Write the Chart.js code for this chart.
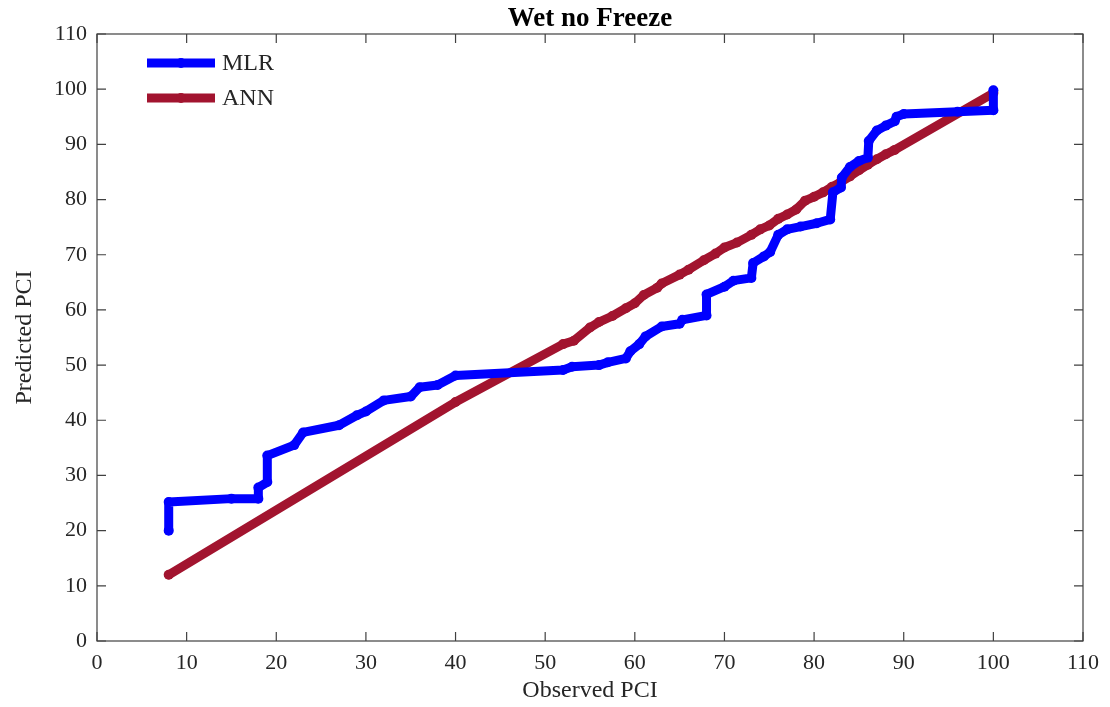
<!DOCTYPE html>
<html>
<head>
<meta charset="utf-8">
<script src="https://cdn.jsdelivr.net/npm/chart.js@4/dist/chart.umd.min.js"></script>
<style>
  html, body { margin: 0; padding: 0; background: #fff; }
  #wrap { width: 1110px; height: 707px; }
</style>
</head>
<body>
<div id="wrap"><canvas id="pci"></canvas></div>
<script>
const chartTitle = "Wet no Freeze";
const xLabel = "Observed PCI";
const yLabel = "Predicted PCI";
const seriesNames = ["MLR", "ANN"];
const seriesColors = ["#0000ff", "#a2142f"];

// MLR: observed vs predicted
const mlrObserved = [8, 8, 15, 18, 18, 19, 19, 22, 23, 27, 29, 30, 32, 35, 36, 38, 40, 52, 53, 56, 57, 59,
  59.5, 60.5, 61.2, 63, 65, 65.3, 68, 68, 70, 71, 73, 73.2, 74.4, 75.1, 76, 77, 78.5, 80.3, 81.8, 82.1,
  83, 83.1, 84, 85, 86, 86.1, 87, 88, 89, 89.2, 90, 96, 100, 100];
const mlrPredicted = [20, 25.2, 25.8, 25.8, 27.8, 28.8, 33.6, 35.5, 37.8, 39.1, 40.9, 41.6, 43.6, 44.3, 46.0, 46.4, 48.1, 49.1, 49.7, 50.0, 50.5, 51.2,
  52.5, 53.8, 55.2, 57.0, 57.5, 58.2, 59.0, 62.8, 64.2, 65.3, 65.8, 68.5, 69.7, 70.5, 73.6, 74.6, 75.1, 75.7, 76.4, 81.3,
  82.2, 84.0, 85.9, 87.0, 87.6, 90.6, 92.5, 93.4, 94.2, 95.0, 95.5, 95.9, 96.2, 99.8];

// ANN: observed vs predicted
const annObserved = [8, 40, 52, 53.2, 55, 56, 57.5, 59, 60, 61, 62.5, 63, 65, 66, 67.7, 69, 70, 71.4, 73, 74,
  75, 76, 77, 78, 79, 80, 81, 82, 83, 84, 85, 86, 87, 88, 89, 100];
const annPredicted = [12, 43.3, 53.8, 54.4, 56.8, 57.8, 58.9, 60.3, 61.2, 62.7, 64.0, 64.8, 66.4, 67.3, 69.0, 70.2, 71.3, 72.2, 73.6, 74.6,
  75.3, 76.5, 77.3, 78.2, 79.8, 80.5, 81.3, 82.3, 83.2, 84.2, 85.3, 86.3, 87.3, 88.2, 89.0, 99.3];

const axisMin = 0;
const axisMax = 110;
const axisStep = 10;

const serif = "'Liberation Serif', 'Times New Roman', serif";
const textColor = "#262626";
const frameColor = "#404040";

function toPoints(xs, ys) {
  return xs.map((x, i) => ({ x: x, y: ys[i] }));
}

function lineSet(label, xs, ys, color) {
  return {
    label: label,
    data: toPoints(xs, ys),
    borderColor: color,
    backgroundColor: color,
    borderWidth: 9,
    borderCapStyle: "round",
    borderJoinStyle: "round",
    pointRadius: 5,
    pointBorderWidth: 0,
    pointBackgroundColor: color,
    pointHoverRadius: 5,
    tension: 0,
  };
}

// box around the axes with inward ticks on every side
const framePlugin = {
  id: "frame",
  beforeDatasetsDraw(chart) {
    const { ctx, chartArea: a, scales } = chart;
    const len = 9;
    ctx.save();
    ctx.strokeStyle = frameColor;
    ctx.lineWidth = 1.2;
    ctx.strokeRect(a.left, a.top, a.right - a.left, a.bottom - a.top);
    ctx.beginPath();
    scales.x.ticks.forEach((t) => {
      const px = scales.x.getPixelForValue(t.value);
      ctx.moveTo(px, a.bottom); ctx.lineTo(px, a.bottom - len);
      ctx.moveTo(px, a.top); ctx.lineTo(px, a.top + len);
    });
    scales.y.ticks.forEach((t) => {
      const py = scales.y.getPixelForValue(t.value);
      ctx.moveTo(a.left, py); ctx.lineTo(a.left + len, py);
      ctx.moveTo(a.right, py); ctx.lineTo(a.right - len, py);
    });
    ctx.stroke();
    ctx.restore();
  },
  afterDraw(chart) {
    const { ctx, chartArea: a } = chart;
    ctx.save();
    // title over the plot area
    ctx.fillStyle = "#000";
    ctx.font = "bold 27px " + serif;
    ctx.textAlign = "center";
    ctx.textBaseline = "alphabetic";
    ctx.fillText(chartTitle, (a.left + a.right) / 2, 26);

    // legend in the upper left corner
    ctx.font = "24px " + serif;
    ctx.textAlign = "left";
    ctx.textBaseline = "middle";
    const rows = [63, 98];
    chart.data.datasets.forEach((ds, i) => {
      const y = rows[i];
      ctx.strokeStyle = ds.borderColor;
      ctx.lineWidth = 9;
      ctx.lineCap = "butt";
      ctx.beginPath();
      ctx.moveTo(147, y);
      ctx.lineTo(215, y);
      ctx.stroke();
      ctx.fillStyle = ds.borderColor;
      ctx.beginPath();
      ctx.arc(181, y, 5, 0, Math.PI * 2);
      ctx.fill();
      ctx.fillStyle = textColor;
      ctx.fillText(ds.label, 222, y + 1);
    });
    ctx.restore();
  },
};

const data = {
  datasets: [
    lineSet(seriesNames[0], mlrObserved, mlrPredicted, seriesColors[0]),
    lineSet(seriesNames[1], annObserved, annPredicted, seriesColors[1]),
  ],
};

const config = {
  type: "line",
  data: data,
  options: {
    responsive: true,
    maintainAspectRatio: false,
    animation: false,
    layout: {
      padding: { top: 34, right: 27, left: 0, bottom: 0 },
    },
    scales: {
      x: {
        type: "linear",
        min: axisMin,
        max: axisMax,
        ticks: {
          stepSize: axisStep,
          color: textColor,
          padding: 9,
          font: { family: serif, size: 22 },
        },
        grid: { display: false, drawTicks: false },
        border: { display: false },
        title: {
          display: true,
          text: xLabel,
          color: textColor,
          font: { family: serif, size: 24 },
          padding: { top: 0, bottom: 2 },
        },
        afterFit(scale) {
          scale.height = 66;
        },
      },
      y: {
        type: "linear",
        min: axisMin,
        max: axisMax,
        ticks: {
          stepSize: axisStep,
          color: textColor,
          padding: 10,
          font: { family: serif, size: 22 },
        },
        grid: { display: false, drawTicks: false },
        border: { display: false },
        title: {
          display: true,
          text: yLabel,
          color: textColor,
          font: { family: serif, size: 24 },
          padding: { top: 10, bottom: 0 },
        },
        afterFit(scale) {
          scale.width = 97;
        },
      },
    },
    plugins: {
      legend: { display: false },
      title: { display: false },
      tooltip: { enabled: false },
    },
  },
  plugins: [framePlugin],
};

const pciChart = new Chart(document.getElementById("pci"), config);
</script>
</body>
</html>
